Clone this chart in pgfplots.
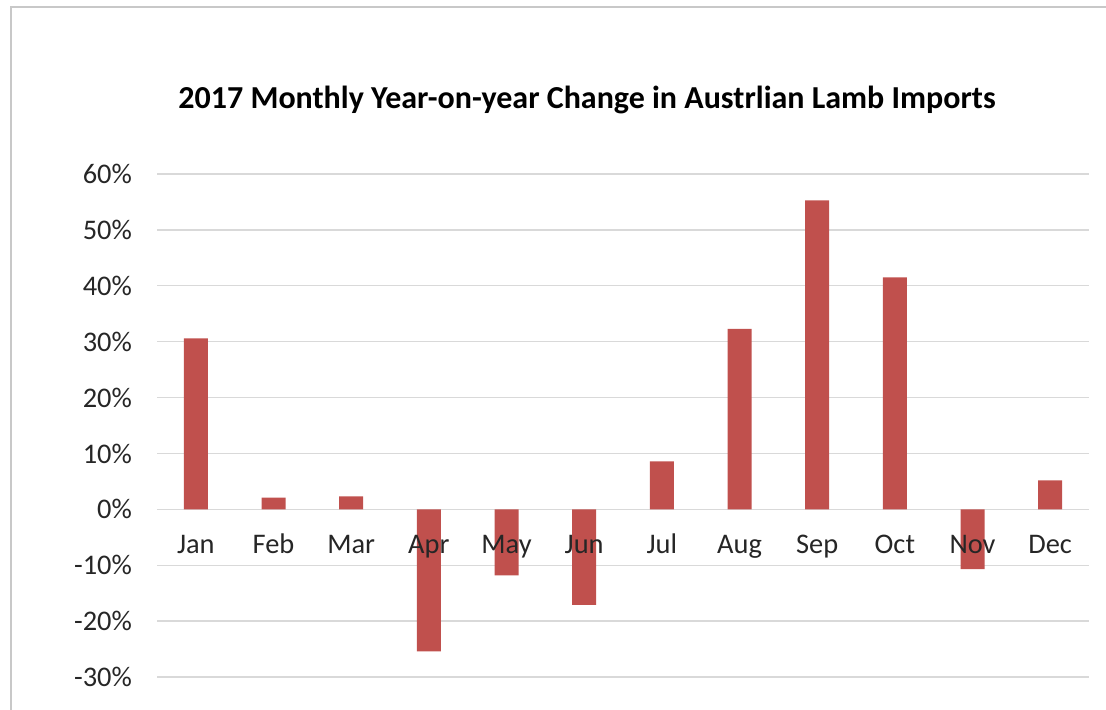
\documentclass[border=0pt]{standalone}
\usepackage{pgfplots}
\pgfplotsset{compat=1.18}
\usepackage{fontspec}
\setmainfont{Carlito}
\definecolor{barred}{RGB}{192,80,77}
\definecolor{gridgray}{RGB}{217,217,217}
\definecolor{framegray}{RGB}{200,200,200}
\pgfplotsset{
  common/.style={
    at={(78.5pt,16.5pt)}, anchor=south west,
    scale only axis, width=466pt, height=251.5pt,
    xmin=-0.5, xmax=11.5, ymin=-30, ymax=60,
    axis line style={draw=none},
    major tick length=0pt, tick style={draw=none},
    ticklabel style={font=\fontsize{14.2}{17}\selectfont, text=black!85},
  }
}
\begin{document}
\begin{tikzpicture}
\useasboundingbox (0,0) rectangle (553pt,355pt);
\draw[framegray, line width=0.6pt] (5.5pt,0) -- (5.5pt,351.5pt) -- (553pt,351.5pt);
\node[font=\fontsize{16}{19}\selectfont\bfseries] at (293.5pt,305pt) {2017 Monthly Year-on-year Change in Austrlian Lamb Imports};
\begin{axis}[
  common,
  ytick={-30,-20,...,60},
  yticklabels={-30\%,-20\%,-10\%,0\%,10\%,20\%,30\%,40\%,50\%,60\%},
  xtick=\empty,
  ymajorgrids, grid style={gridgray, line width=0.7pt},
  yticklabel style={xshift=-9pt},
  ybar, bar width=12pt,
]
\addplot[fill=barred, draw=none] coordinates {
(0,30.6) (1,2.1) (2,2.3) (3,-25.4) (4,-11.8) (5,-17.1)
(6,8.6) (7,32.3) (8,55.3) (9,41.5) (10,-10.7) (11,5.2)};
\end{axis}
\begin{axis}[
  common,
  ytick=\empty,
  xtick={0,...,11},
  xticklabels={Jan,Feb,Mar,Apr,May,Jun,Jul,Aug,Sep,Oct,Nov,Dec},
  xticklabel style={anchor=base, yshift=61.8pt},
]
\end{axis}
\end{tikzpicture}
\end{document}
